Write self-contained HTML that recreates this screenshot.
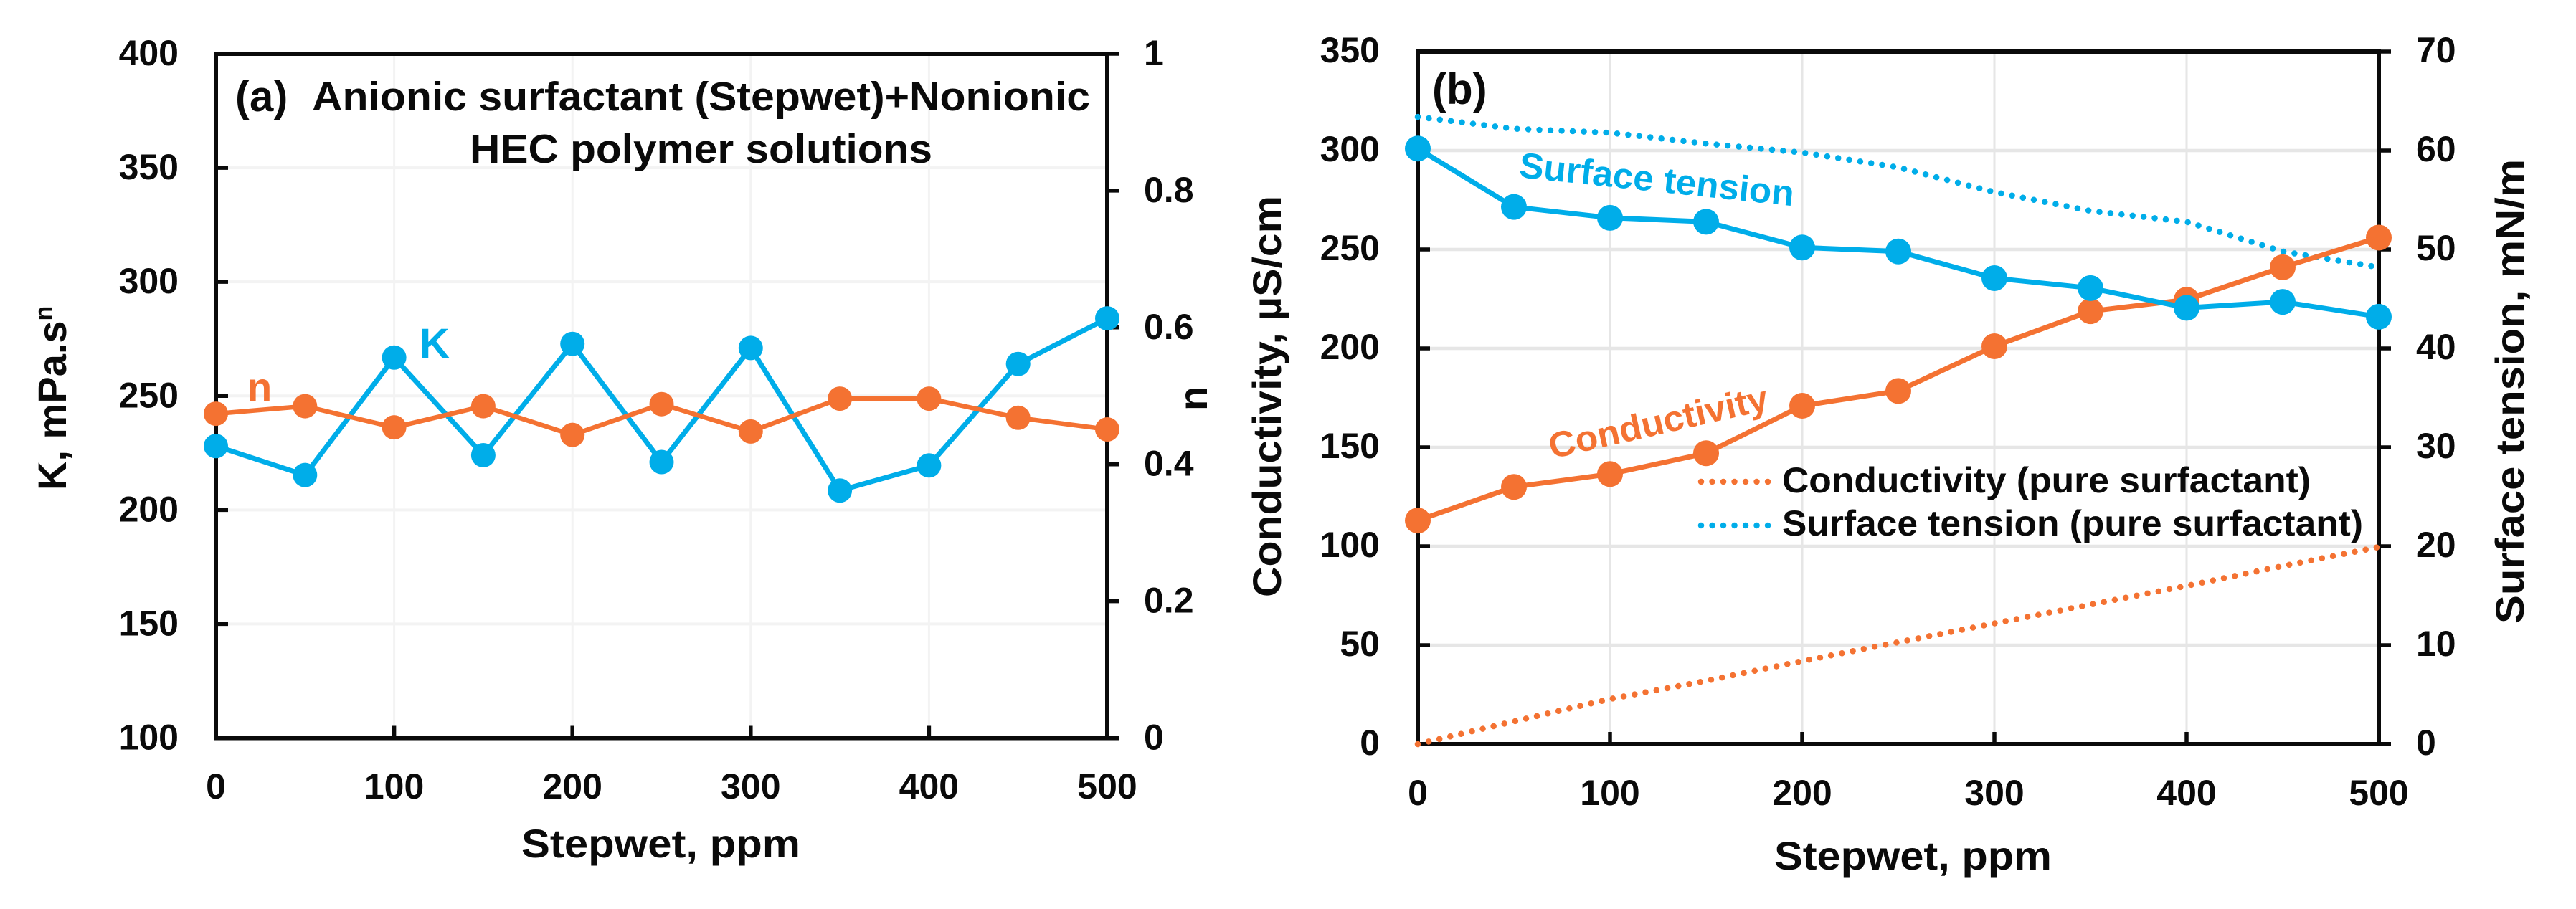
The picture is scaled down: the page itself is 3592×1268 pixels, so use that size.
<!DOCTYPE html>
<html lang="en">
<head>
<meta charset="utf-8">
<title>Stepwet rheology, conductivity and surface tension</title>
<style>
html,body{margin:0;padding:0;background:#fff;}
svg{display:block;}
text{font-family:"Liberation Sans",Arial,sans-serif;font-weight:bold;fill:#0a0a0a;stroke:currentColor;stroke-width:0;}
</style>
</head>
<body>
<svg id="fig" xmlns="http://www.w3.org/2000/svg" width="3592" height="1268" viewBox="0 0 3592 1268">
  <rect x="0" y="0" width="3592" height="1268" fill="#ffffff"/>
  <g id="a-under"></g>
  <g id="b-under"></g>
  <g id="a-marks"></g>
  <g id="b-marks"></g>

  <text x="727" y="1196" font-size="56" textLength="389" lengthAdjust="spacingAndGlyphs">Stepwet, ppm</text>
  <text transform="translate(92,684) rotate(-90)" font-size="56">K, mPa.s<tspan font-size="34" dy="-20">n</tspan></text>
  <text transform="translate(1683,573) rotate(-90)" font-size="56">n</text>
  <text x="328" y="155" font-size="60">(a)</text>
  <text x="435" y="154" font-size="57" textLength="1085" lengthAdjust="spacingAndGlyphs">Anionic surfactant (Stepwet)+Nonionic</text>
  <text x="655" y="227" font-size="57" textLength="645" lengthAdjust="spacingAndGlyphs">HEC polymer solutions</text>
  <text x="585" y="499" font-size="58" style="fill:#00ade9">K</text>
  <text x="345" y="559" font-size="56" style="fill:#f47232">n</text>

  <text x="2474" y="1213" font-size="56" textLength="387" lengthAdjust="spacingAndGlyphs">Stepwet, ppm</text>
  <text transform="translate(1786,833) rotate(-90)" font-size="56" textLength="560" lengthAdjust="spacingAndGlyphs">Conductivity, µS/cm</text>
  <text transform="translate(3519,870) rotate(-90)" font-size="56" textLength="648" lengthAdjust="spacingAndGlyphs">Surface tension, mN/m</text>
  <text x="1997" y="145" font-size="60">(b)</text>
  <text transform="translate(2117,247) rotate(6)" font-size="50" textLength="385" lengthAdjust="spacingAndGlyphs" style="fill:#00ade9">Surface tension</text>
  <text transform="translate(2164,640) rotate(-12.8)" font-size="50" textLength="312" lengthAdjust="spacingAndGlyphs" style="fill:#f47232">Conductivity</text>

  <g>
    <line x1="2372" y1="672" x2="2472" y2="672" stroke="#f47232" stroke-width="8.5" stroke-linecap="round" stroke-dasharray="0.01 15.5"/>
    <text x="2485" y="687" font-size="50" textLength="737" lengthAdjust="spacingAndGlyphs">Conductivity (pure surfactant)</text>
    <line x1="2372" y1="733" x2="2472" y2="733" stroke="#00ade9" stroke-width="8.5" stroke-linecap="round" stroke-dasharray="0.01 15.5"/>
    <text x="2485" y="747" font-size="50" textLength="810" lengthAdjust="spacingAndGlyphs">Surface tension (pure surfactant)</text>
  </g>
</svg>
<script>
// Shared x data
var stepwetPpm = [0, 50, 100, 150, 200, 250, 300, 350, 400, 450, 500];
var xTickLabels = [0, 100, 200, 300, 400, 500];

// Panel (a) data
var kValues = [228, 215.3, 266.8, 224, 272.8, 221, 271, 208.5, 219.5, 264, 284];
var nValues = [0.474, 0.485, 0.454, 0.485, 0.443, 0.488, 0.448, 0.496, 0.496, 0.468, 0.451];
var kTickLabels = [100, 150, 200, 250, 300, 350, 400];
var nTickLabels = ['0', '0.2', '0.4', '0.6', '0.8', '1'];

// Panel (b) data
var conductivityValues = [113, 130, 136.5, 147, 171, 178.5, 201.1, 218.8, 224.6, 241, 256];
var tensionValues = [60.2, 54.3, 53.2, 52.8, 50.2, 49.8, 47.1, 46.1, 44.1, 44.7, 43.2];
var pureConductivityValues = [0, 11.5, 22.8, 32, 42, 51.5, 61, 70.5, 80, 90, 99.6];
var pureTensionValues = [63.4, 62.2, 61.8, 60.7, 59.8, 58.3, 55.8, 53.9, 52.8, 49.8, 48.2];
var conductivityTickLabels = [0, 50, 100, 150, 200, 250, 300, 350];
var tensionTickLabels = [0, 10, 20, 30, 40, 50, 60, 70];

var NS = 'http://www.w3.org/2000/svg';
var BLUE = '#00ade9';
var ORANGE = '#f47232';

function scale(d0, d1, r0, r1) {
  return function (v) { return r0 + (v - d0) * (r1 - r0) / (d1 - d0); };
}
function make(parent, tag, props) {
  var el = document.createElementNS(NS, tag);
  for (var k in props) { el.setAttribute(k, props[k]); }
  parent.appendChild(el);
  return el;
}
function drawLine(parent, x1, y1, x2, y2, color, width, name) {
  var el = make(parent, 'line', { x1: x1, y1: y1, x2: x2, y2: y2, stroke: color, 'stroke-width': width });
  
  
  return el;
}
function drawText(parent, x, y, str, anchor, name) {
  var el = make(parent, 'text', { x: x, y: y, 'font-size': 50, 'text-anchor': anchor });
  el.textContent = str;
  
  
  return el;
}
function drawFrame(g, box, xs, yL, yR, leftTicks, rightTicks, opts) {
  var i, v;
  for (i = 0; i < leftTicks.length; i++) {
    v = leftTicks[i];
    if (yL(v) > box.top + 1 && yL(v) < box.bottom - 1) {
      drawLine(g, box.left, yL(v), box.right, yL(v), opts.gridColor, opts.gridH, 'horizontal-gridline');
    }
  }
  for (i = 0; i < xTickLabels.length; i++) {
    v = xTickLabels[i];
    if (v > 0 && v < 500) {
      drawLine(g, xs(v), box.top, xs(v), box.bottom, opts.gridColor, opts.gridV, 'vertical-gridline');
    }
  }
  drawLine(g, box.left - 3, box.top, box.right + 3, box.top, '#0a0a0a', 6, 'top-axis-line');
  drawLine(g, box.left - 3, box.bottom, box.right + 17, box.bottom, '#0a0a0a', 6, 'x-axis-line');
  drawLine(g, box.left, box.top, box.left, box.bottom, '#0a0a0a', 6, 'left-axis-line');
  drawLine(g, box.right, box.top, box.right, box.bottom, '#0a0a0a', 6, 'right-axis-line');
  for (i = 0; i < leftTicks.length; i++) {
    v = leftTicks[i];
    drawLine(g, box.left, yL(v), box.left + 17, yL(v), '#0a0a0a', 5.5, 'left-tick');
    drawText(g, opts.leftLabelX, yL(v) + opts.labelDy, String(v), 'end', 'left-tick-label');
  }
  for (i = 0; i < rightTicks.length; i++) {
    v = rightTicks[i];
    drawLine(g, box.right, yR(Number(v)), box.right + 17, yR(Number(v)), '#0a0a0a', 5.5, 'right-tick');
    drawText(g, opts.rightLabelX, yR(Number(v)) + opts.labelDy, String(v), 'start', 'right-tick-label');
  }
  for (i = 0; i < xTickLabels.length; i++) {
    v = xTickLabels[i];
    if (v > 0 && v < 500) {
      drawLine(g, xs(v), box.bottom, xs(v), box.bottom - 17, '#0a0a0a', 5.5, 'x-tick');
    }
    drawText(g, xs(v), opts.xLabelY, String(v), 'middle', 'x-tick-label');
  }
}
function pointsOf(xs, ys, xVals, yVals) {
  var out = [];
  for (var i = 0; i < xVals.length; i++) {
    out.push(xs(xVals[i]).toFixed(1) + ',' + ys(yVals[i]).toFixed(1));
  }
  return out.join(' ');
}
function drawSolid(g, xs, ys, values, color, width, r, name) {
  var line = make(g, 'polyline', { points: pointsOf(xs, ys, stepwetPpm, values), fill: 'none', stroke: color, 'stroke-width': width, 'stroke-linejoin': 'round' });
  
  
  for (var i = 0; i < values.length; i++) {
    var dot = make(g, 'circle', { cx: xs(stepwetPpm[i]), cy: ys(values[i]), r: r, fill: color });
    
    
  }
}
function drawDotted(g, xs, ys, values, color, name) {
  var line = make(g, 'polyline', { points: pointsOf(xs, ys, stepwetPpm, values), fill: 'none', stroke: color, 'stroke-width': 8.5, 'stroke-linecap': 'round', 'stroke-dasharray': '0.01 15.5' });
  
  
}

// Panel (a)
var boxA = { left: 301, right: 1544, top: 75, bottom: 1029.5 };
var xA = scale(0, 500, boxA.left, boxA.right);
var yK = scale(100, 400, boxA.bottom, boxA.top);
var yN = scale(0, 1, boxA.bottom, boxA.top);
drawFrame(document.getElementById('a-under'), boxA, xA, yK, yN, kTickLabels, nTickLabels, {
  gridColor: '#f3f3f3', gridH: 4, gridV: 3, leftLabelX: 249, rightLabelX: 1595, labelDy: 16, xLabelY: 1114
});
var marksA = document.getElementById('a-marks');
drawSolid(marksA, xA, yK, kValues, BLUE, 7, 17, 'k-series');
drawSolid(marksA, xA, yN, nValues, ORANGE, 6.5, 17, 'n-series');

// Panel (b)
var boxB = { left: 1977, right: 3317, top: 72, bottom: 1038 };
var xB = scale(0, 500, boxB.left, boxB.right);
var yC = scale(0, 350, boxB.bottom, boxB.top);
var yS = scale(0, 70, boxB.bottom, boxB.top);
drawFrame(document.getElementById('b-under'), boxB, xB, yC, yS, conductivityTickLabels, tensionTickLabels, {
  gridColor: '#e6e6e6', gridH: 4.5, gridV: 3, leftLabelX: 1924, rightLabelX: 3369, labelDy: 15, xLabelY: 1123
});
var marksB = document.getElementById('b-marks');
drawDotted(marksB, xB, yC, pureConductivityValues, ORANGE, 'pure-conductivity-series');
drawDotted(marksB, xB, yS, pureTensionValues, BLUE, 'pure-tension-series');
drawSolid(marksB, xB, yC, conductivityValues, ORANGE, 7, 18, 'conductivity-series');
drawSolid(marksB, xB, yS, tensionValues, BLUE, 7, 18, 'tension-series');
</script>
</body>
</html>
